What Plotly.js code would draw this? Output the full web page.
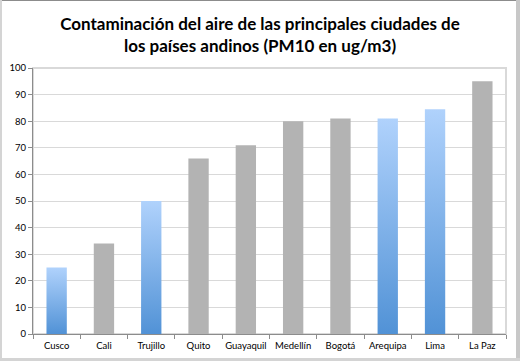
<!DOCTYPE html>
<html>
<head>
<meta charset="utf-8">
<script src="https://cdn.plot.ly/plotly-3.0.1.min.js"></script>
<style>
html,body{margin:0;padding:0;background:#fff;}
#wrap{position:relative;width:520px;height:361px;}
#chart{position:absolute;left:0;top:0;width:520px;height:361px;}
.fr{position:absolute;pointer-events:none;}
</style>
</head>
<body>
<div id="wrap">
<div id="chart"></div>
<div class="fr" style="left:0;top:0;width:520px;height:1px;background:#8c8c8c"></div>
<div class="fr" style="left:0;top:0;width:2px;height:361px;background:#d4d4d4"></div>
<div class="fr" style="left:516px;top:0;width:4px;height:361px;background:#c8c8c8"></div>
<div class="fr" style="left:0;top:358px;width:520px;height:3px;background:#d4d4d4"></div>
</div>
<script>
const cities = ["Cusco","Cali","Trujillo","Quito","Guayaquil","Medellín","Bogotá","Arequipa","Lima","La Paz"];
const pm10 = [25, 34, 50, 66, 71, 80, 81, 81, 84.5, 95];
const isPeru = [true, false, true, false, false, false, false, true, true, false];
const yTicks = [0,10,20,30,40,50,60,70,80,90,100];

const colors = isPeru.map(p => p ? "#6fa6e6" : "#b3b3b3");
const font = "Lato, 'Open Sans', sans-serif";

const data = [{
  type: "bar",
  x: cities,
  y: pm10,
  marker: {color: colors, line: {width: 0}},
  hoverinfo: "x+y"
}];

const layout = {
  width: 520, height: 361,
  margin: {l: 33, r: 14, t: 68, b: 27, pad: 0},
  paper_bgcolor: "#ffffff",
  plot_bgcolor: "#ffffff",
  bargap: 0.57,
  showlegend: false,
  title: {
    text: "<b>Contaminación del aire de las principales ciudades de<br>los países andinos (PM10 en ug/m3)</b>",
    font: {family: font, size: 17, color: "#000", lineposition: "none"},
    x: 0.5, xanchor: "center",
    y: 0.918, yanchor: "middle", yref: "container"
  },
  xaxis: {
    type: "category",
    showgrid: false,
    showline: true, linecolor: "#8c8c8c", linewidth: 1,
    ticks: "outside", tickson: "boundaries", ticklen: 4, tickcolor: "#8c8c8c",
    tickangle: 0,
    ticklabelstandoff: 3,
    tickfont: {family: font, size: 9.5, color: "#000"},
    fixedrange: true
  },
  yaxis: {
    range: [0, 100],
    tickvals: yTicks,
    ticktext: yTicks.map(String),
    showgrid: true, gridcolor: "#d9d9d9", gridwidth: 1,
    showline: true, linecolor: "#8c8c8c", linewidth: 1,
    ticks: "outside", ticklen: 4, tickcolor: "#8c8c8c",
    tickfont: {family: font, size: 9.5, color: "#000"},
    zeroline: false,
    fixedrange: true
  },
  shapes: [{
    type: "rect", xref: "paper", yref: "paper", x0: 0, x1: 1, y0: 0, y1: 1,
    line: {color: "#d9d9d9", width: 2}, layer: "below"
  }]
};

Plotly.newPlot("chart", data, layout, {displayModeBar: false, staticPlot: true}).then(function(gd){
  const svg = gd.querySelector("svg.main-svg");
  const ns = "http://www.w3.org/2000/svg";
  let defs = svg.querySelector("defs");
  if (!defs) { defs = document.createElementNS(ns, "defs"); svg.insertBefore(defs, svg.firstChild); }
  const g = document.createElementNS(ns, "linearGradient");
  g.setAttribute("id", "blueGrad");
  g.setAttribute("x1", "0"); g.setAttribute("y1", "0");
  g.setAttribute("x2", "0"); g.setAttribute("y2", "1");
  const s1 = document.createElementNS(ns, "stop");
  s1.setAttribute("offset", "0"); s1.setAttribute("stop-color", "#b0d2fc");
  const s2 = document.createElementNS(ns, "stop");
  s2.setAttribute("offset", "1"); s2.setAttribute("stop-color", "#5192d6");
  g.appendChild(s1); g.appendChild(s2);
  defs.appendChild(g);
  const paths = gd.querySelectorAll(".barlayer .point path");
  paths.forEach(function(p, i){
    if (isPeru[i]) { p.style.fill = "url(#blueGrad)"; }
  });
});
</script>
</body>
</html>
